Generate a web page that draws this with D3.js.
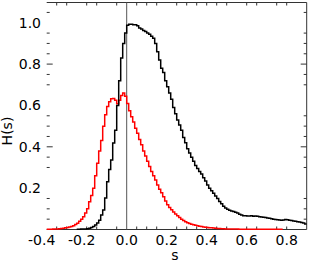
<!DOCTYPE html>
<html><head><meta charset="utf-8">
<script src="https://cdn.jsdelivr.net/npm/d3@7"></script>
<style>body{margin:0;background:#fff}svg{display:block}</style>
</head><body>
<svg id="c" width="313" height="266"></svg>
<script>
// bin width 0.01; first bin starts at the given start value
const binWidth = 0.01;
const blackStart = -0.25;
const blackValues = [
0.001,0.001,0.002,0.002,0.002,0.004,0.006,0.010,0.014,0.022,
0.031,0.045,0.070,0.094,0.152,0.231,0.290,0.336,0.418,0.480,
0.600,0.720,0.830,0.900,0.950,0.988,0.993,0.993,0.990,0.990,
0.985,0.975,0.970,0.962,0.958,0.950,0.945,0.935,0.925,0.900,
0.860,0.820,0.780,0.760,0.720,0.690,0.660,0.630,0.590,0.560,
0.530,0.505,0.480,0.445,0.420,0.390,0.370,0.350,0.330,0.310,
0.295,0.280,0.268,0.250,0.235,0.215,0.200,0.188,0.175,0.162,
0.150,0.135,0.125,0.112,0.104,0.098,0.093,0.090,0.087,0.083,
0.080,0.074,0.070,0.067,0.066,0.065,0.065,0.066,0.064,0.065,
0.064,0.062,0.060,0.059,0.058,0.056,0.054,0.052,0.050,0.048,
0.047,0.046,0.045,0.046,0.048,0.047,0.045,0.043,0.041,0.040,
0.038,0.036,0.034,0.031,0.027
];
const redStart = -0.40;
const redValues = [
0.001,0.001,0.001,0.002,0.002,0.003,0.004,0.005,0.006,0.008,
0.010,0.012,0.014,0.018,0.024,0.030,0.040,0.050,0.062,0.080,
0.100,0.134,0.165,0.200,0.260,0.320,0.380,0.430,0.500,0.555,
0.595,0.618,0.632,0.634,0.625,0.608,0.625,0.648,0.660,0.645,
0.610,0.575,0.545,0.520,0.490,0.465,0.435,0.410,0.380,0.355,
0.330,0.305,0.280,0.260,0.240,0.215,0.195,0.178,0.158,0.138,
0.120,0.107,0.095,0.085,0.075,0.066,0.058,0.050,0.044,0.038,
0.033,0.029,0.026,0.023,0.020,0.018,0.016,0.014,0.012,0.011,
0.010,0.009,0.008,0.007,0.006,0.005,0.005,0.004,0.004,0.003,
0.003,0.002,0.002,0.002,0.002,0.002,0.001,0.001,0.001,0.001,
0.001,0.001,0.001,0.001,0.001,0.001,0.001,0.001,0.001,0.001,
0.001,0.001,0.001,0.001,0.001,0.001,0.001,0.001
];
const xTickLabels = ["-0.4","-0.2","0.0","0.2","0.4","0.6","0.8"];
const xTickValues = [-0.4,-0.2,0.0,0.2,0.4,0.6,0.8];
const xMinorTicks = [-0.35,-0.3,-0.2,-0.15,-0.05,0.05,0.1,0.15,0.25,0.3,0.35,0.4,0.45,0.5,0.6,0.65,0.75,0.8];
const yTickLabels = ["0.2","0.4","0.6","0.8","1.0"];
const yTickValues = [0.2,0.4,0.6,0.8,1.0];
const yMinorTicks = [0.05,0.1,0.15,0.3,0.35,0.45,0.5,0.55,0.7,0.75,0.85,0.9,0.95,1.05];
const yMajorTicks = [0.4,0.8];

const L = 46.7, R = 306.7, T = 2.5, B = 229.5;
const x = d3.scaleLinear().domain([-0.4, 0.9]).range([L, R]);
const y = d3.scaleLinear().domain([0, 1.098]).range([B, T]);
const svg = d3.select("#c");
const font = "DejaVu Sans, sans-serif";

function stepPoints(start, vals) {
  const pts = [];
  vals.forEach((v, i) => {
    const x0 = start + i * binWidth, x1 = x0 + binWidth;
    pts.push([x0, v], [x1, v]);
  });
  return pts;
}
const line = d3.line().x(d => x(d[0])).y(d => y(d[1]));

const frame = svg.append("g").attr("stroke", "#333").attr("stroke-width", 1).attr("fill", "none");
frame.append("line").attr("x1", L).attr("x2", R).attr("y1", T).attr("y2", T);
frame.append("line").attr("x1", R).attr("x2", R).attr("y1", T).attr("y2", B);
frame.append("line").attr("x1", L).attr("x2", R).attr("y1", B).attr("y2", B);

// ticks
const tk = svg.append("g").attr("stroke", "#333").attr("stroke-width", 1);
xMinorTicks.forEach(v => {
  tk.append("line").attr("x1", x(v)).attr("x2", x(v)).attr("y1", T).attr("y2", T + 3);
  tk.append("line").attr("x1", x(v)).attr("x2", x(v)).attr("y1", B).attr("y2", B - 3);
});
yMinorTicks.forEach(v => {
  tk.append("line").attr("x1", L).attr("x2", L + 3).attr("y1", y(v)).attr("y2", y(v));
  tk.append("line").attr("x1", R).attr("x2", R - 3).attr("y1", y(v)).attr("y2", y(v));
});
yMajorTicks.forEach(v => {
  tk.append("line").attr("x1", L).attr("x2", L + 6).attr("y1", y(v)).attr("y2", y(v));
  tk.append("line").attr("x1", R).attr("x2", R - 6).attr("y1", y(v)).attr("y2", y(v));
});

// zero line
svg.append("line").attr("x1", x(0)).attr("x2", x(0)).attr("y1", T).attr("y2", B)
  .attr("stroke", "#555").attr("stroke-width", 1);

svg.append("path").attr("d", line(stepPoints(redStart, redValues)))
  .attr("fill", "none").attr("stroke", "#ff0000").attr("stroke-width", 1.5);
svg.append("path").attr("d", line(stepPoints(blackStart, blackValues)))
  .attr("fill", "none").attr("stroke", "#000").attr("stroke-width", 1.5);

// labels
xTickValues.forEach((v, i) => {
  const lbl = xTickLabels[i];
  svg.append("text").attr("x", x(v) - (lbl.startsWith("-") ? 5 : 0)).attr("y", 245)
    .attr("text-anchor", "middle").attr("font-family", font).attr("font-size", 14)
    .attr("fill", "#000").text(lbl);
});
yTickValues.forEach((v, i) => {
  svg.append("text").attr("x", 41).attr("y", y(v) + 5)
    .attr("text-anchor", "end").attr("font-family", font).attr("font-size", 14)
    .attr("fill", "#000").text(yTickLabels[i]);
});
svg.append("text").attr("x", 175).attr("y", 260).attr("text-anchor", "middle")
  .attr("font-family", font).attr("font-size", 14).text("s");
svg.append("text").attr("transform", "translate(12,131) rotate(-90)").attr("text-anchor", "middle")
  .attr("font-family", font).attr("font-size", 14).text("H(s)");
</script>
</body></html>
